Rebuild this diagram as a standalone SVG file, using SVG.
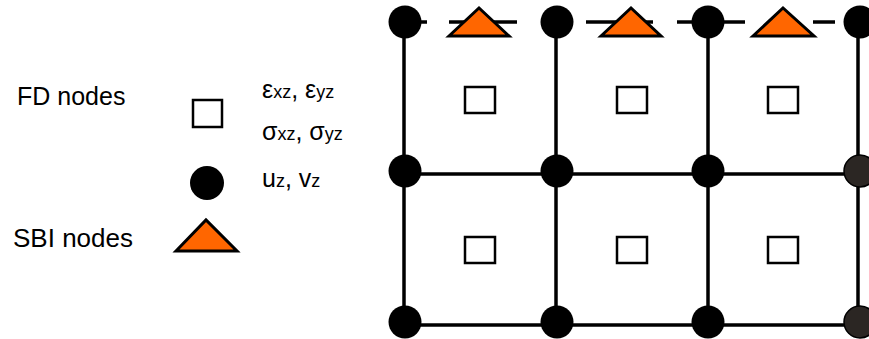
<svg xmlns="http://www.w3.org/2000/svg" width="869" height="339" viewBox="0 0 869 339">
<style>
.t{font-family:"Liberation Sans",Arial,sans-serif;fill:#000}
.ln{stroke:#000;stroke-width:3.5;fill:none}
.nd{fill:#000}
.ndg{fill:#2b2623;stroke:#000;stroke-width:1.5}
.sq{fill:#fff;stroke:#000;stroke-width:2.5}
.tri{fill:#ff6600;stroke:#000;stroke-width:3;stroke-linejoin:miter}
.sub{font-size:18px}
</style>
<rect width="869" height="339" fill="#fff"/>
<g id="legend">
  <text class="t" x="17" y="105" font-size="25">FD nodes</text>
  <text class="t" x="13" y="247" font-size="26">SBI nodes</text>
  <rect class="sq" x="193" y="100" width="29" height="27"/>
  <circle class="nd" cx="207" cy="183" r="17"/>
  <polygon class="tri" points="176,251 206,220 237,251"/>
  <text class="t" x="262" y="98" font-size="25">ε<tspan class="sub">xz</tspan>, ε<tspan class="sub">yz</tspan></text>
  <text class="t" x="262" y="140" font-size="25">σ<tspan class="sub">xz</tspan>, σ<tspan class="sub">yz</tspan></text>
  <text class="t" x="262" y="187" font-size="25">u<tspan class="sub">z</tspan>, v<tspan class="sub">z</tspan></text>
</g>
<g id="connectors">
  <line class="ln" x1="404" y1="22" x2="404" y2="325"/>
  <line class="ln" x1="556" y1="22" x2="556" y2="325"/>
  <line class="ln" x1="708" y1="22" x2="708" y2="325"/>
  <line class="ln" x1="858" y1="22" x2="858" y2="325"/>
  <line class="ln" x1="404" y1="174" x2="860" y2="174"/>
  <line class="ln" x1="404" y1="325" x2="860" y2="325"/>
  <line class="ln" x1="404" y1="22" x2="427" y2="22"/>
  <line class="ln" x1="449" y1="22" x2="517" y2="22"/>
  <line class="ln" x1="586" y1="22" x2="653" y2="22"/>
  <line class="ln" x1="677" y1="22" x2="745" y2="22"/>
  <line class="ln" x1="813" y1="22" x2="835" y2="22"/>
</g>
<g id="fd-cells">
  <rect class="sq" x="465" y="87" width="30" height="26"/>
  <rect class="sq" x="617" y="87" width="30" height="26"/>
  <rect class="sq" x="768" y="87" width="30" height="26"/>
  <rect class="sq" x="465" y="237" width="30" height="26"/>
  <rect class="sq" x="617" y="237" width="30" height="26"/>
  <rect class="sq" x="768" y="237" width="30" height="26"/>
</g>
<g id="sbi-nodes">
  <polygon class="tri" points="449,36 479,8 509,36"/>
  <polygon class="tri" points="601,36 631,8 661,36"/>
  <polygon class="tri" points="753,36 783,8 814,36"/>
</g>
<g id="u-nodes">
  <circle class="nd" cx="405" cy="22" r="16.5"/>
  <circle class="nd" cx="557" cy="22" r="16.5"/>
  <circle class="nd" cx="708" cy="22" r="16.5"/>
  <circle class="nd" cx="860" cy="22" r="16.5"/>
  <circle class="nd" cx="405" cy="171" r="16.5"/>
  <circle class="nd" cx="557" cy="171" r="16.5"/>
  <circle class="nd" cx="708" cy="171" r="16.5"/>
  <circle class="ndg" cx="860" cy="171" r="16"/>
  <circle class="nd" cx="405" cy="322" r="16.5"/>
  <circle class="nd" cx="557" cy="322" r="16.5"/>
  <circle class="nd" cx="708" cy="322" r="16.5"/>
  <circle class="ndg" cx="860" cy="322" r="16"/>
</g>
</svg>
